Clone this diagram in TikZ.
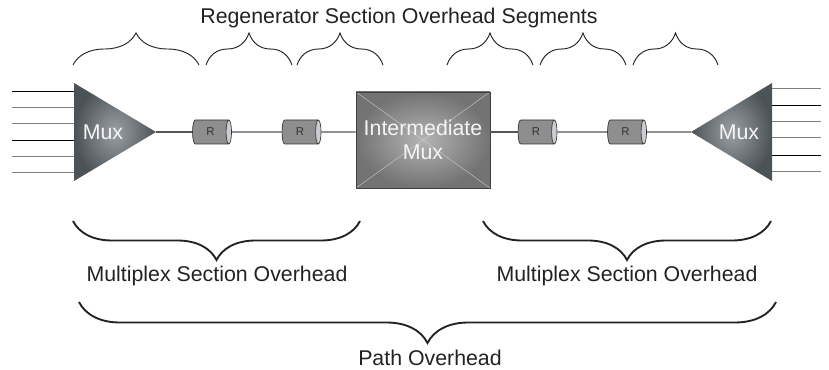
\documentclass[tikz,border=0pt]{standalone}
\usepackage{fontspec}
\setmainfont{Liberation Sans}
\usetikzlibrary{shapes.geometric,decorations.pathreplacing}
\definecolor{muxdark}{HTML}{4C5357}
\definecolor{muxlight}{HTML}{9AA0A5}
\definecolor{boxdark}{HTML}{737373}
\definecolor{boxlight}{HTML}{B4B4B4}
\definecolor{wiregray}{HTML}{555555}
\definecolor{repbody}{HTML}{8E8E8E}
\definecolor{repend}{HTML}{CACCD3}
\definecolor{txt}{HTML}{222222}
\tikzset{
  lbl/.style={font=\fontsize{16}{17.5}\selectfont, text=txt, align=center},
  muxlbl/.style={lbl, text=white!92!gray},
  wire/.style={draw=wiregray, line width=0.8pt},
  feed/.style={line width=0.75pt},
  muxshape/.style={shading=radial, inner color=muxlight, outer color=muxdark},
  rep/.style={cylinder, draw=black!80, line width=0.5pt, minimum height=29.25pt,
    minimum width=18pt, aspect=0.7, inner sep=0pt,
    cylinder uses custom fill, cylinder body fill=repbody, cylinder end fill=repend,
    font=\fontsize{8.5}{9}\selectfont, text=black!80},
  imuxbox/.style={lbl, text=white!92!gray, draw=black!75, line width=0.6pt,
    minimum width=100.5pt, minimum height=72pt, inner sep=0pt,
    shading=radial, inner color=boxlight, outer color=boxdark,
    path picture={\draw[white!60!gray, line width=0.3pt]
      (path picture bounding box.north west) -- (path picture bounding box.south east)
      (path picture bounding box.south west) -- (path picture bounding box.north east);}},
  brc/.style={decorate, decoration={brace, amplitude=#1}, draw=txt},
  brc/.default=24pt,
}
\begin{document}
\begin{tikzpicture}[x=0.75pt, y=-0.75pt]
    \useasboundingbox (0,0) rectangle (829,370);
    % feeds into the end multiplexers
    \foreach \y/\c in {92/black, 108/gray, 124/gray, 141/black, 157/gray, 173/gray}
        \draw[feed, \c] (12,\y) -- (74,\y);
    \foreach \y/\c in {89/gray, 106/black, 122/gray, 138/gray, 156/black, 172/gray}
        \draw[feed, \c] (772,\y) -- (821,\y);
    \shade[muxshape] (74,83) -- (156,132) -- (74,181) -- cycle;
    \shade[muxshape] (772,83) -- (691,132) -- (772,181) -- cycle;
    \coordinate (lmux tip) at (156,132);
    \coordinate (rmux tip) at (691,132);
    \node[muxlbl] (lmux) at (103,132) {Mux};
    \node[muxlbl] (rmux) at (739,132) {Mux};
    \node[imuxbox] (imux) at (423,140) {Intermediate\\Mux};
    \node[rep] (r1) at (210.5,132) {R};
    \node[rep] (r2) at (300,132) {R};
    \node[rep] (r3) at (536,132) {R};
    \node[rep] (r4) at (625.5,132) {R};
    \draw[wire] (lmux tip) -- (r1);
    \draw[wire] (r1) -- (r2);
    \draw[wire] (r2) -- (r2 -| imux.west);
    \draw[wire] (r3 -| imux.east) -- (r3);
    \draw[wire] (r3) -- (r4);
    \draw[wire] (r4) -- (rmux tip);
    % regenerator section braces
    \node[lbl] (title) at (399,18) {Regenerator Section Overhead Segments};
    \draw[brc, line width=0.7pt] (73,65) -- (199,65);
    \draw[brc, line width=0.7pt] (206,65) -- (292,65);
    \draw[brc, line width=0.7pt] (297,65) -- (383,65);
    \draw[brc, line width=0.7pt] (447,65) -- (533,65);
    \draw[brc, line width=0.7pt] (540,65) -- (626,65);
    \draw[brc, line width=0.7pt] (633,65) -- (718,65);
    % multiplex section and path braces
    \draw[brc=29.25pt, line width=1.4pt] (360,221) -- (73,221);
    \draw[brc=29.25pt, line width=1.4pt] (771,221) -- (483,221);
    \node[lbl] (msl) at (217,276) {Multiplex Section Overhead};
    \node[lbl] (msr) at (627,276) {Multiplex Section Overhead};
    \draw[brc=30.75pt, line width=1.4pt] (776,302) -- (79,302);
    \node[lbl] (poh) at (430,358) {Path Overhead};
\end{tikzpicture}
\end{document}
